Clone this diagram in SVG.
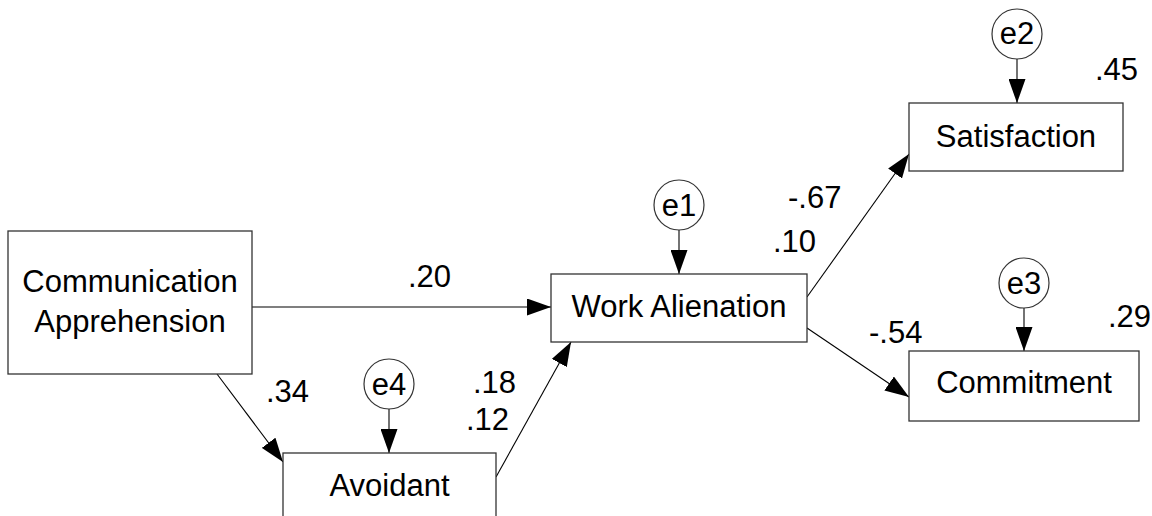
<svg xmlns="http://www.w3.org/2000/svg" width="1152" height="516" viewBox="0 0 1152 516">
<style>
text{font-family:"Liberation Sans",Arial,sans-serif;font-size:31px;fill:#000}
.box{fill:#fff;stroke:#333;stroke-width:1.3}
.err{fill:#fff;stroke:#333;stroke-width:1.2}
.mid{text-anchor:middle}
.edge{stroke:#000;stroke-width:1.1;fill:none;marker-end:url(#ah)}
</style>
<defs>
<marker id="ah" markerUnits="userSpaceOnUse" markerWidth="25" markerHeight="17" refX="24" refY="8.5" orient="auto">
<path d="M0,0 L24,8.5 L0,17 z" fill="#000"/>
</marker>
</defs>
<rect width="1152" height="516" fill="#fff"/>
<g id="connectors">
<path class="edge" d="M252,307 L551,307"/>
<path class="edge" d="M217,374 L283,462"/>
<path class="edge" d="M496,477 L571,342"/>
<path class="edge" d="M807,297 L909,154"/>
<path class="edge" d="M807,328 L909,397"/>
<path class="edge" d="M679,230 L679,274"/>
<path class="edge" d="M1017,59 L1017,103"/>
<path class="edge" d="M1024,308 L1024,351"/>
<path class="edge" d="M389,409 L389,453"/>
</g>
<g id="comm">
<rect class="box" x="8" y="231" width="244" height="143"/>
<text class="mid" x="130" y="292">Communication</text>
<text class="mid" x="130" y="332">Apprehension</text>
</g>
<g id="avoidant">
<rect class="box" x="283" y="453" width="213" height="80"/>
<text class="mid" x="389.5" y="496">Avoidant</text>
</g>
<g id="workalienation">
<rect class="box" x="551" y="274" width="256" height="68"/>
<text class="mid" x="679" y="317">Work Alienation</text>
</g>
<g id="satisfaction">
<rect class="box" x="909" y="103" width="214" height="68"/>
<text class="mid" x="1016" y="147">Satisfaction</text>
</g>
<g id="commitment">
<rect class="box" x="909" y="351" width="230" height="70"/>
<text class="mid" x="1024" y="393">Commitment</text>
</g>
<g id="e1">
<circle class="err" cx="679" cy="205" r="25"/>
<text class="mid" x="679" y="216">e1</text>
</g>
<g id="e2">
<circle class="err" cx="1017" cy="34" r="25"/>
<text class="mid" x="1017" y="44">e2</text>
</g>
<g id="e3">
<circle class="err" cx="1024" cy="283" r="25"/>
<text class="mid" x="1024" y="294">e3</text>
</g>
<g id="e4">
<circle class="err" cx="389" cy="384" r="25"/>
<text class="mid" x="389" y="395">e4</text>
</g>
<g id="labels">
<text x="408" y="287">.20</text>
<text x="266" y="402">.34</text>
<text x="473" y="393">.18</text>
<text x="466" y="430">.12</text>
<text x="788" y="208">-.67</text>
<text x="773" y="252">.10</text>
<text x="1095" y="80">.45</text>
<text x="1108" y="327">.29</text>
<text x="869" y="343">-.54</text>
</g>
</svg>
